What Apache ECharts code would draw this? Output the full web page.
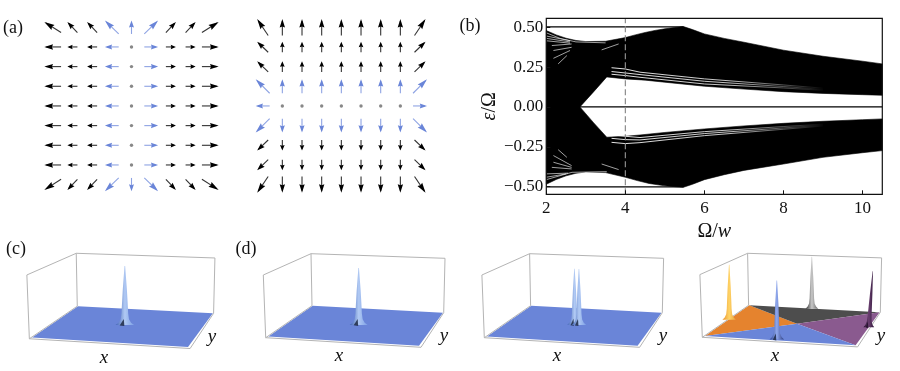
<!DOCTYPE html>
<html>
<head>
<meta charset="utf-8">
<style>html,body{margin:0;padding:0;background:#fff}#chart{width:900px;height:371px}#chart canvas{filter:blur(0.35px)}</style>
<script src="https://cdn.jsdelivr.net/npm/echarts@6/dist/echarts.min.js"></script>
</head>
<body>
<div id="chart"></div>
<script>
var latticeCols = [-4, -3, -2, -1, 0, 1, 2, 3, 4];
var latticeRows = [4, 3, 2, 1, 0, -1, -2, -3, -4];

// panel (a) left: u per column, v on the outer rows per column
var a1U = [-0.85, -0.51, -0.51, -0.70, 0, 0.70, 0.51, 0.51, 0.85];
var a1EdgeV = [0.54, 0.54, 0.54, 0.68, 0.68, 0.68, 0.54, 0.54, 0.54];
var a1BlueCols = [3, 4, 5];

// panel (a) right: v per row, u on the outer columns per row
var a2V = [0.83, 0.54, 0.54, 0.71, 0, -0.71, -0.54, -0.54, -0.83];
var a2EdgeU = [0.56, 0.56, 0.56, 0.71, 0.71, 0.71, 0.56, 0.56, 0.56];
var a2BlueRows = [3, 4, 5];

// panel (b): outlines of the black bands
var upperOuterX = [2, 2.25, 2.5, 2.75, 3, 3.5, 4, 4.25, 4.5, 4.75, 5, 5.25, 5.47, 5.7, 6, 6.5, 7, 8, 9, 10, 10.5];
var upperOuterY = [0.479, 0.452, 0.431, 0.417, 0.410, 0.412, 0.435, 0.452, 0.467, 0.480, 0.490, 0.498, 0.504, 0.485, 0.458, 0.430, 0.406, 0.356, 0.318, 0.287, 0.270];
var upperInnerX = [2, 2.85, 3.2, 3.53, 4, 4.5, 5, 6, 7, 8, 9, 10, 10.5];
var upperInnerY = [0, 0, 0.096, 0.188, 0.176, 0.168, 0.155, 0.130, 0.112, 0.096, 0.085, 0.077, 0.073];
var lowerInnerX = [2, 2.85, 3.2, 3.53, 4, 4.37, 5, 6, 7, 8, 9, 10, 10.5];
var lowerInnerY = [0, 0, -0.100, -0.190, -0.184, -0.176, -0.160, -0.138, -0.119, -0.103, -0.090, -0.080, -0.075];
var lowerOuterX = [2, 2.25, 2.5, 2.75, 3, 3.5, 4, 4.3, 4.6, 5, 5.25, 5.47, 5.7, 6, 6.5, 7, 8, 9, 10, 10.5];
var lowerOuterY = [-0.485, -0.455, -0.432, -0.416, -0.408, -0.412, -0.441, -0.462, -0.480, -0.495, -0.500, -0.504, -0.485, -0.456, -0.425, -0.398, -0.358, -0.316, -0.287, -0.274];

var edgeLevelX = [2, 5.47];
var edgeLevels = [0.502, -0.502];
var zeroLevelX = [2, 10.5];
var dashedX = [4, 4];
var dashedY = [-0.548, 0.556];

// white gaps between the levels, each is [x, y] pairs
var longGaps = [
    [[3.65, 0.246], [4, 0.238], [4.37, 0.218], [6, 0.176], [8, 0.138], [9, 0.118]],
    [[3.65, 0.222], [4, 0.213], [4.37, 0.203], [6, 0.161], [8, 0.128], [9, 0.110]],
    [[3.65, 0.205], [4, 0.197], [4.37, 0.186], [6, 0.144], [8, 0.119], [9, 0.104]],
    [[3.65, -0.175], [4, -0.184], [4.37, -0.192], [6, -0.155], [8, -0.123], [9, -0.108]],
    [[3.65, -0.197], [4, -0.205], [4.37, -0.207], [6, -0.167], [8, -0.132], [9, -0.114]],
    [[3.65, -0.222], [4, -0.230], [4.37, -0.224], [6, -0.180], [8, -0.140], [9, -0.120]]
];
var shortGaps = [
    [[3.4, 0.358], [3.83, 0.395]],
    [[3.4, -0.358], [3.83, -0.393]],
    [[2, 0.465], [2.35, 0.430], [2.75, 0.408], [3.5, 0.402]],
    [[2, 0.445], [2.6, 0.415]],
    [[2, 0.430], [2.6, 0.408]],
    [[2, 0.415], [2.6, 0.400]],
    [[2.14, 0.385], [2.64, 0.395]],
    [[2.18, 0.354], [2.64, 0.374]],
    [[2.18, 0.305], [2.6, 0.354]],
    [[2.30, 0.270], [2.52, 0.322]],
    [[2, -0.456], [2.65, -0.410], [3.53, -0.406]],
    [[2, -0.441], [2.5, -0.420]],
    [[2, -0.420], [2.55, -0.415]],
    [[2.14, -0.379], [2.64, -0.389]],
    [[2.18, -0.347], [2.64, -0.379]],
    [[2.18, -0.305], [2.64, -0.368]],
    [[2.30, -0.268], [2.52, -0.316]]
];

var xTicks = [2, 4, 6, 8, 10];
var yTicks = [-0.5, -0.25, 0, 0.25, 0.5];

// panels (c), (d): probability peaks as [x, y, height, lean, width]
var peaksC = [[0.475, 0.52, 58, 0, 1]];
var peaksD1 = [[0.485, 0.50, 57, 0, 1]];
var peaksD2 = [[0.465, 0.50, 56, 0, 0.8], [0.497, 0.50, 56, 0, 0.8]];
var peaksD3 = [[0.005, 0.53, 55, 0, 0.75], [0.48, 1.0, 52, 0, 0.7], [1.0, 0.55, 56, 4, 0.6], [0.47, 0.03, 59, 0, 0.8]];
var peakLevels = [0, 0.04, 0.10, 0.20, 0.35, 0.60, 1];
var peakWidths = [9, 6, 4, 3.2, 2.8, 2, 0.3];

var blue = '#6a85d8';
var d3Floor = ['#e5832e', '#4d4d4d', '#8a5a8f', '#6a85d8'];
var d3Peaks = [
    ['#e8902a', '#ffd466', '#e8a040', null],
    ['#2c2c2c', '#c8c8c8', '#666666', null],
    ['#24102c', '#6a3f70', '#2e1638', '#24102c'],
    ['#2c4490', '#8fa8ee', '#2c3c80', '#1f2a44']
];
var bluePeak = ['#3f62b4', '#b0c9f3', '#7c9fe6', '#1f2a44'];

// box in the local units of a 3d panel
var boxLeft = [[0, 0], [-2.4, 62.7], [45.3, 84], [46.3, 32], [0, 0], [155.3, -9.6], [178, 25]];
var boxBack = [[45.3, 84], [179.3, 79.4], [178, 25]];
var floorFL = [2.7, 1.3];
var floorFR = [153.3, -8];
var floorBL = [47, 32];
var floorBR = [177.3, 25];

function floorPoint(x, y) {
    var fx = floorFL[0] + (floorFR[0] - floorFL[0]) * x;
    var fy = floorFL[1] + (floorFR[1] - floorFL[1]) * x;
    var bx = floorBL[0] + (floorBR[0] - floorBL[0]) * x;
    var by = floorBL[1] + (floorBR[1] - floorBL[1]) * x;
    return [fx + (bx - fx) * y, fy + (by - fy) * y];
}

function renderArrow(params, api) {
    var x = api.value(0), y = api.value(1), u = api.value(2), v = api.value(3);
    var blueOne = api.value(4) === 1;
    if (u === 0 && v === 0) {
        var c = api.coord([x, y]);
        return {type: 'circle', shape: {cx: c[0], cy: c[1], r: 1.7}, style: {fill: '#888'}};
    }
    var a = api.coord([x - u / 2, y - v / 2]);
    var b = api.coord([x + u / 2, y + v / 2]);
    var dx = b[0] - a[0], dy = b[1] - a[1];
    var len = Math.sqrt(dx * dx + dy * dy);
    var ux = dx / len, uy = dy / len;
    var head = len * 0.52, wide = 1.7 + len * 0.06;
    var color = blueOne ? blue : '#000';
    return {
        type: 'group',
        children: [
            {type: 'line', shape: {x1: a[0], y1: a[1], x2: b[0] - ux * 2, y2: b[1] - uy * 2},
                style: {stroke: blueOne ? '#8ea3e3' : '#333', lineWidth: 1.1}},
            {type: 'polygon', shape: {points: [
                b,
                [b[0] - ux * head - uy * wide, b[1] - uy * head + ux * wide],
                [b[0] - ux * head * 0.88, b[1] - uy * head * 0.88],
                [b[0] - ux * head + uy * wide, b[1] - uy * head - ux * wide]
            ]}, style: {fill: color}}
        ]
    };
}

function arrowSeries(grid, list) {
    return {
        type: 'custom',
        xAxisIndex: grid,
        yAxisIndex: grid,
        silent: true,
        renderItem: renderArrow,
        encode: {x: 0, y: 1},
        data: list
    };
}

var arrowsA1 = [];
var arrowsA2 = [];
latticeRows.forEach(function (yv, r) {
    latticeCols.forEach(function (xv, c) {
        var v1 = r === 0 ? a1EdgeV[c] : (r === 8 ? -a1EdgeV[c] : 0);
        arrowsA1.push([xv, yv, a1U[c], v1, a1BlueCols.indexOf(c) >= 0 ? 1 : 0]);
        var u2 = c === 0 ? -a2EdgeU[r] : (c === 8 ? a2EdgeU[r] : 0);
        arrowsA2.push([xv, yv, u2, a2V[r], a2BlueRows.indexOf(r) >= 0 ? 1 : 0]);
    });
});

function surfaceSeries(grid, peaks, peakColors, floorColors) {
    return {
        type: 'custom',
        xAxisIndex: grid,
        yAxisIndex: grid,
        silent: true,
        clip: false,
        data: [[0, 0]],
        renderItem: function (params, api) {
            var kids = [];
            function pts(list) {
                return list.map(function (p) { return api.coord(p); });
            }
            if (floorColors) {
                var mid = floorPoint(0.49, 0.53);
                var rim = [[floorFL, floorBL], [floorBL, floorBR], [floorBR, floorFR], [floorFR, floorFL]];
                rim.forEach(function (e, i) {
                    kids.push({type: 'polygon', shape: {points: pts([e[0], e[1], mid])}, style: {fill: floorColors[i]}});
                });
            } else {
                kids.push({type: 'polygon', shape: {points: pts([floorFL, floorBL, floorBR, floorFR])}, style: {fill: blue}});
            }
            kids.push({type: 'polyline', shape: {points: pts(boxLeft)}, style: {fill: 'none', stroke: '#b4b4b4', lineWidth: 1}});
            kids.push({type: 'polyline', shape: {points: pts(boxBack)}, style: {fill: 'none', stroke: '#b4b4b4', lineWidth: 1}});
            peaks.forEach(function (p, i) {
                var base = floorPoint(p[0], p[1]);
                var left = [], right = [];
                peakLevels.forEach(function (lv, k) {
                    var h = p[2] * lv, w = peakWidths[k] * p[4];
                    left.push([base[0] - w + p[3] * lv, base[1] + h]);
                    right.unshift([base[0] + w + p[3] * lv, base[1] + h]);
                });
                var c = peakColors[i];
                kids.push({type: 'polygon', shape: {points: pts(left.concat(right))}, style: {
                    fill: new echarts.graphic.LinearGradient(0, 0, 1, 0, [
                        {offset: 0, color: c[0]}, {offset: 0.5, color: c[1]}, {offset: 1, color: c[2]}
                    ])
                }});
                if (c[3]) {
                    kids.push({type: 'polygon', shape: {points: pts([
                        [base[0] - 5 * p[4], base[1] - 0.3],
                        [base[0] - 1, base[1] + 6],
                        [base[0] - 0.5, base[1] - 1]
                    ])}, style: {fill: c[3], opacity: 0.85}});
                }
            });
            return {type: 'group', children: kids};
        }
    };
}

function bandPolygon(xa, ya, xb, yb) {
    var list = [];
    xa.forEach(function (x, i) { list.push([x, ya[i]]); });
    for (var i = xb.length - 1; i >= 0; i--) {
        list.push([xb[i], yb[i]]);
    }
    return list;
}

var upperBand = bandPolygon(upperOuterX, upperOuterY, upperInnerX, upperInnerY);
var lowerBand = bandPolygon(lowerOuterX, lowerOuterY, lowerInnerX, lowerInnerY);

function bandSeries(points) {
    return {
        type: 'custom',
        xAxisIndex: 2,
        yAxisIndex: 2,
        silent: true,
        data: [[2, 0]],
        z: 2,
        renderItem: function (params, api) {
            return {
                type: 'polygon',
                shape: {points: points.map(function (p) { return api.coord(p); })},
                style: {fill: '#000', stroke: '#000', lineWidth: 0.6}
            };
        }
    };
}

function levelSeries(data, color, width, dash, z) {
    return {
        type: 'line',
        xAxisIndex: 2,
        yAxisIndex: 2,
        showSymbol: false,
        silent: true,
        z: z,
        lineStyle: {color: color, width: width, type: dash},
        data: data
    };
}

function hiddenAxis(lo, hi) {
    return {type: 'value', min: lo, max: hi, show: false};
}

var serif = '"Liberation Serif", serif';
var seriesList = [
    arrowSeries(0, arrowsA1),
    arrowSeries(1, arrowsA2),
    bandSeries(upperBand),
    bandSeries(lowerBand)
];
edgeLevels.forEach(function (lv) {
    seriesList.push(levelSeries(edgeLevelX.map(function (x) { return [x, lv]; }), '#000', 1.3, 'solid', 3));
});
seriesList.push(levelSeries(zeroLevelX.map(function (x) { return [x, 0]; }), '#000', 1.3, 'solid', 3));
longGaps.forEach(function (g) {
    // the gaps close up towards the right
    var fade = new echarts.graphic.LinearGradient(0, 0, 1, 0, [
        {offset: 0, color: '#fff'},
        {offset: 0.55, color: 'rgba(255,255,255,0.85)'},
        {offset: 1, color: 'rgba(255,255,255,0)'}
    ]);
    seriesList.push(levelSeries(g, fade, 0.9, 'solid', 4));
});
shortGaps.forEach(function (g) {
    seriesList.push(levelSeries(g, 'rgba(255,255,255,0.9)', 0.7, 'solid', 4));
});
seriesList.push(levelSeries(dashedX.map(function (x, i) { return [x, dashedY[i]]; }), '#8c8c8c', 1.2, [6, 3], 5));
seriesList.push(surfaceSeries(3, peaksC, [bluePeak], null));
seriesList.push(surfaceSeries(4, peaksD1, [bluePeak], null));
seriesList.push(surfaceSeries(5, peaksD2, [bluePeak, bluePeak], null));
seriesList.push(surfaceSeries(6, peaksD3, d3Peaks, d3Floor));

function label(text, x, y, font) {
    return {
        type: 'text',
        x: x,
        y: y,
        silent: true,
        style: {text: text, fill: '#111', font: font, textAlign: 'center', textVerticalAlign: 'middle'}
    };
}

var panelFont = '18px ' + serif;
var mathFont = 'italic 19px ' + serif;
var nameRich = {
    up: {fontFamily: serif, fontSize: 20, color: '#111'},
    it: {fontFamily: serif, fontSize: 20, color: '#111', fontStyle: 'italic'}
};

var option = {
    animation: false,
    backgroundColor: '#fff',
    grid: [
        {left: 33, top: 7.6, width: 197, height: 196.7},
        {left: 243, top: 7.6, width: 196.7, height: 196.7},
        {left: 546.3, top: 18.3, width: 336, height: 176, show: true, borderColor: '#111', borderWidth: 1.2, z: 6},
        {left: 19, top: 242.1, width: 207, height: 117},
        {left: 255.7, top: 242.7, width: 200, height: 115},
        {left: 474.3, top: 242.7, width: 200, height: 115},
        {left: 692.3, top: 242.3, width: 200, height: 115}
    ],
    xAxis: [
        hiddenAxis(-5, 5),
        hiddenAxis(-5, 5),
        {
            type: 'value', min: 2, max: 10.5,
            name: '{up|Ω/}{it|w}', nameLocation: 'middle', nameGap: 27,
            nameTextStyle: {rich: nameRich},
            splitLine: {show: false},
            axisLine: {show: false, onZero: false},
            axisTick: {inside: true, length: 4, lineStyle: {color: '#111'}, customValues: xTicks},
            axisLabel: {customValues: xTicks, fontFamily: serif, fontSize: 17, color: '#111', margin: 6},
            z: 6
        },
        hiddenAxis(-10, 190),
        hiddenAxis(-10, 190),
        hiddenAxis(-10, 190),
        hiddenAxis(-10, 190)
    ],
    yAxis: [
        hiddenAxis(-5, 5),
        hiddenAxis(-5, 5),
        {
            type: 'value', min: -0.548, max: 0.556,
            name: '{it|ε}{up|/Ω}', nameLocation: 'middle', nameGap: 37, nameRotate: 90,
            nameTextStyle: {rich: nameRich},
            splitLine: {show: false},
            axisLine: {show: false, onZero: false},
            axisTick: {inside: true, length: 4, lineStyle: {color: '#111'}, customValues: yTicks},
            axisLabel: {
                customValues: yTicks, fontFamily: serif, fontSize: 17, color: '#111', margin: 3,
                formatter: function (v) { return v.toFixed(2).replace('-', '\u2212'); }
            },
            z: 6
        },
        hiddenAxis(-20, 95),
        hiddenAxis(-20, 95),
        hiddenAxis(-20, 95),
        hiddenAxis(-20, 95)
    ],
    graphic: {elements: [
        label('(a)', 13, 28, panelFont),
        label('(b)', 470, 26, panelFont),
        label('(c)', 16, 249, panelFont),
        label('(d)', 246, 249, panelFont),
        label('x', 104, 358, mathFont),
        label('y', 212, 337, mathFont),
        label('x', 339, 356, mathFont),
        label('y', 444, 336, mathFont),
        label('x', 557, 356, mathFont),
        label('y', 663, 336, mathFont),
        label('x', 775, 356, mathFont),
        label('y', 881, 336, mathFont)
    ]},
    series: seriesList
};

option.xAxis.forEach(function (a, i) { a.gridIndex = i; });
option.yAxis.forEach(function (a, i) { a.gridIndex = i; });

var chart = echarts.init(document.getElementById('chart'));
chart.setOption(option);
</script>
</body>
</html>
